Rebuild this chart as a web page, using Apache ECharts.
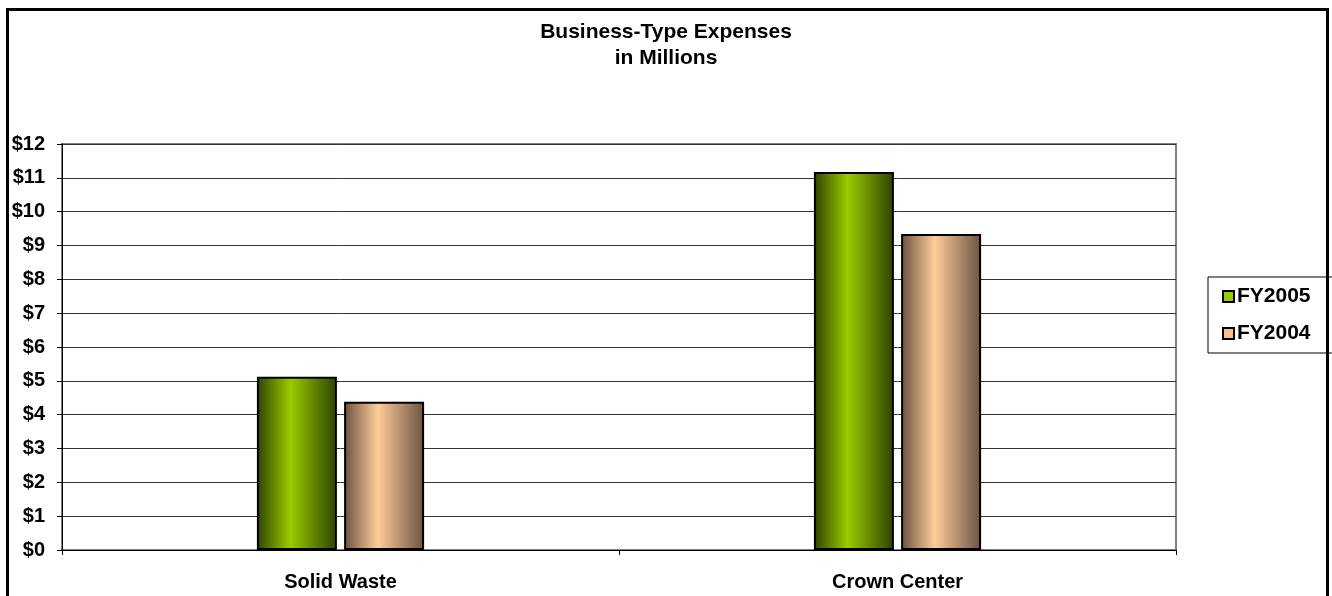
<!DOCTYPE html>
<html>
<head>
<meta charset="utf-8">
<script src="https://cdn.jsdelivr.net/npm/echarts@6/dist/echarts.min.js"></script>
<style>
  html, body { margin: 0; padding: 0; background: #fff; }
  #chart { width: 1332px; height: 596px; }
</style>
</head>
<body>
<div id="chart"></div>
<script>
// Business-type expenses, millions of dollars
const categories = ['Solid Waste', 'Crown Center'];
const seriesNames = ['FY2005', 'FY2004'];
const fy2005 = [5.12, 11.17];
const fy2004 = [4.38, 9.34];
const yTicks = [0, 12, 1]; // min, max, step

const FONT = '"Liberation Sans", Arial, sans-serif';

function barGradient(edge, mid) {
  return new echarts.graphic.LinearGradient(0, 0, 1, 0, [
    { offset: 0, color: edge },
    { offset: 0.42, color: mid },
    { offset: 1, color: edge }
  ]);
}

const chart = echarts.init(document.getElementById('chart'), null, { renderer: 'canvas' });

chart.setOption({
  backgroundColor: '#fff',
  animation: false,
  title: {
    text: 'Business-Type Expenses\nin Millions',
    left: 'center',
    top: 14,
    textStyle: { fontFamily: FONT, fontSize: 21, fontWeight: 'bold', color: '#000', lineHeight: 26 }
  },
  legend: {
    left: 1208,
    top: 277,
    orient: 'vertical',
    padding: [9, 30, 9, 14],
    itemGap: 16,
    itemWidth: 11,
    itemHeight: 11,
    borderColor: '#000',
    borderWidth: 1,
    icon: 'rect',
    data: [
      { name: seriesNames[0], itemStyle: { color: '#99cc00', borderColor: '#000', borderWidth: 2 } },
      { name: seriesNames[1], itemStyle: { color: '#f5c090', borderColor: '#000', borderWidth: 2 } }
    ],
    textStyle: { fontFamily: FONT, fontSize: 21, fontWeight: 'bold', color: '#000', padding: [0, 0, 0, -2] }
  },
  grid: {
    left: 62, right: 156, top: 144, bottom: 46,
    show: true, borderColor: '#808080', borderWidth: 2
  },
  xAxis: {
    type: 'category',
    data: categories,
    axisLine: { lineStyle: { color: '#000', width: 1 } },
    axisTick: { show: true, length: 5, lineStyle: { color: '#000' } },
    axisLabel: { margin: 22, fontFamily: FONT, fontSize: 20, fontWeight: 'bold', color: '#000' }
  },
  yAxis: {
    type: 'value',
    min: yTicks[0], max: yTicks[1], interval: yTicks[2],
    axisLine: { show: true, lineStyle: { color: '#000', width: 1 } },
    axisTick: { show: true, length: 5, lineStyle: { color: '#000' } },
    splitLine: { lineStyle: { color: '#333', width: 1 } },
    axisLabel: {
      margin: 17, fontFamily: FONT, fontSize: 20, fontWeight: 'bold', color: '#000',
      formatter: v => '$' + v
    }
  },
  series: [
    {
      name: seriesNames[0], type: 'bar', data: fy2005,
      barWidth: 80, barGap: '9%',
      itemStyle: { color: barGradient('#2e4200', '#99cc00'), borderColor: '#000', borderWidth: 2 }
    },
    {
      name: seriesNames[1], type: 'bar', data: fy2004,
      barWidth: 80, barGap: '9%',
      itemStyle: { color: barGradient('#6b5242', '#ffcc99'), borderColor: '#000', borderWidth: 2 }
    }
  ],
  graphic: [
    {
      type: 'rect', silent: true, z: 100,
      shape: { x: 7.5, y: 9.5, width: 1320, height: 700 },
      style: { fill: 'none', stroke: '#000', lineWidth: 3 }
    }
  ]
});
</script>
</body>
</html>
